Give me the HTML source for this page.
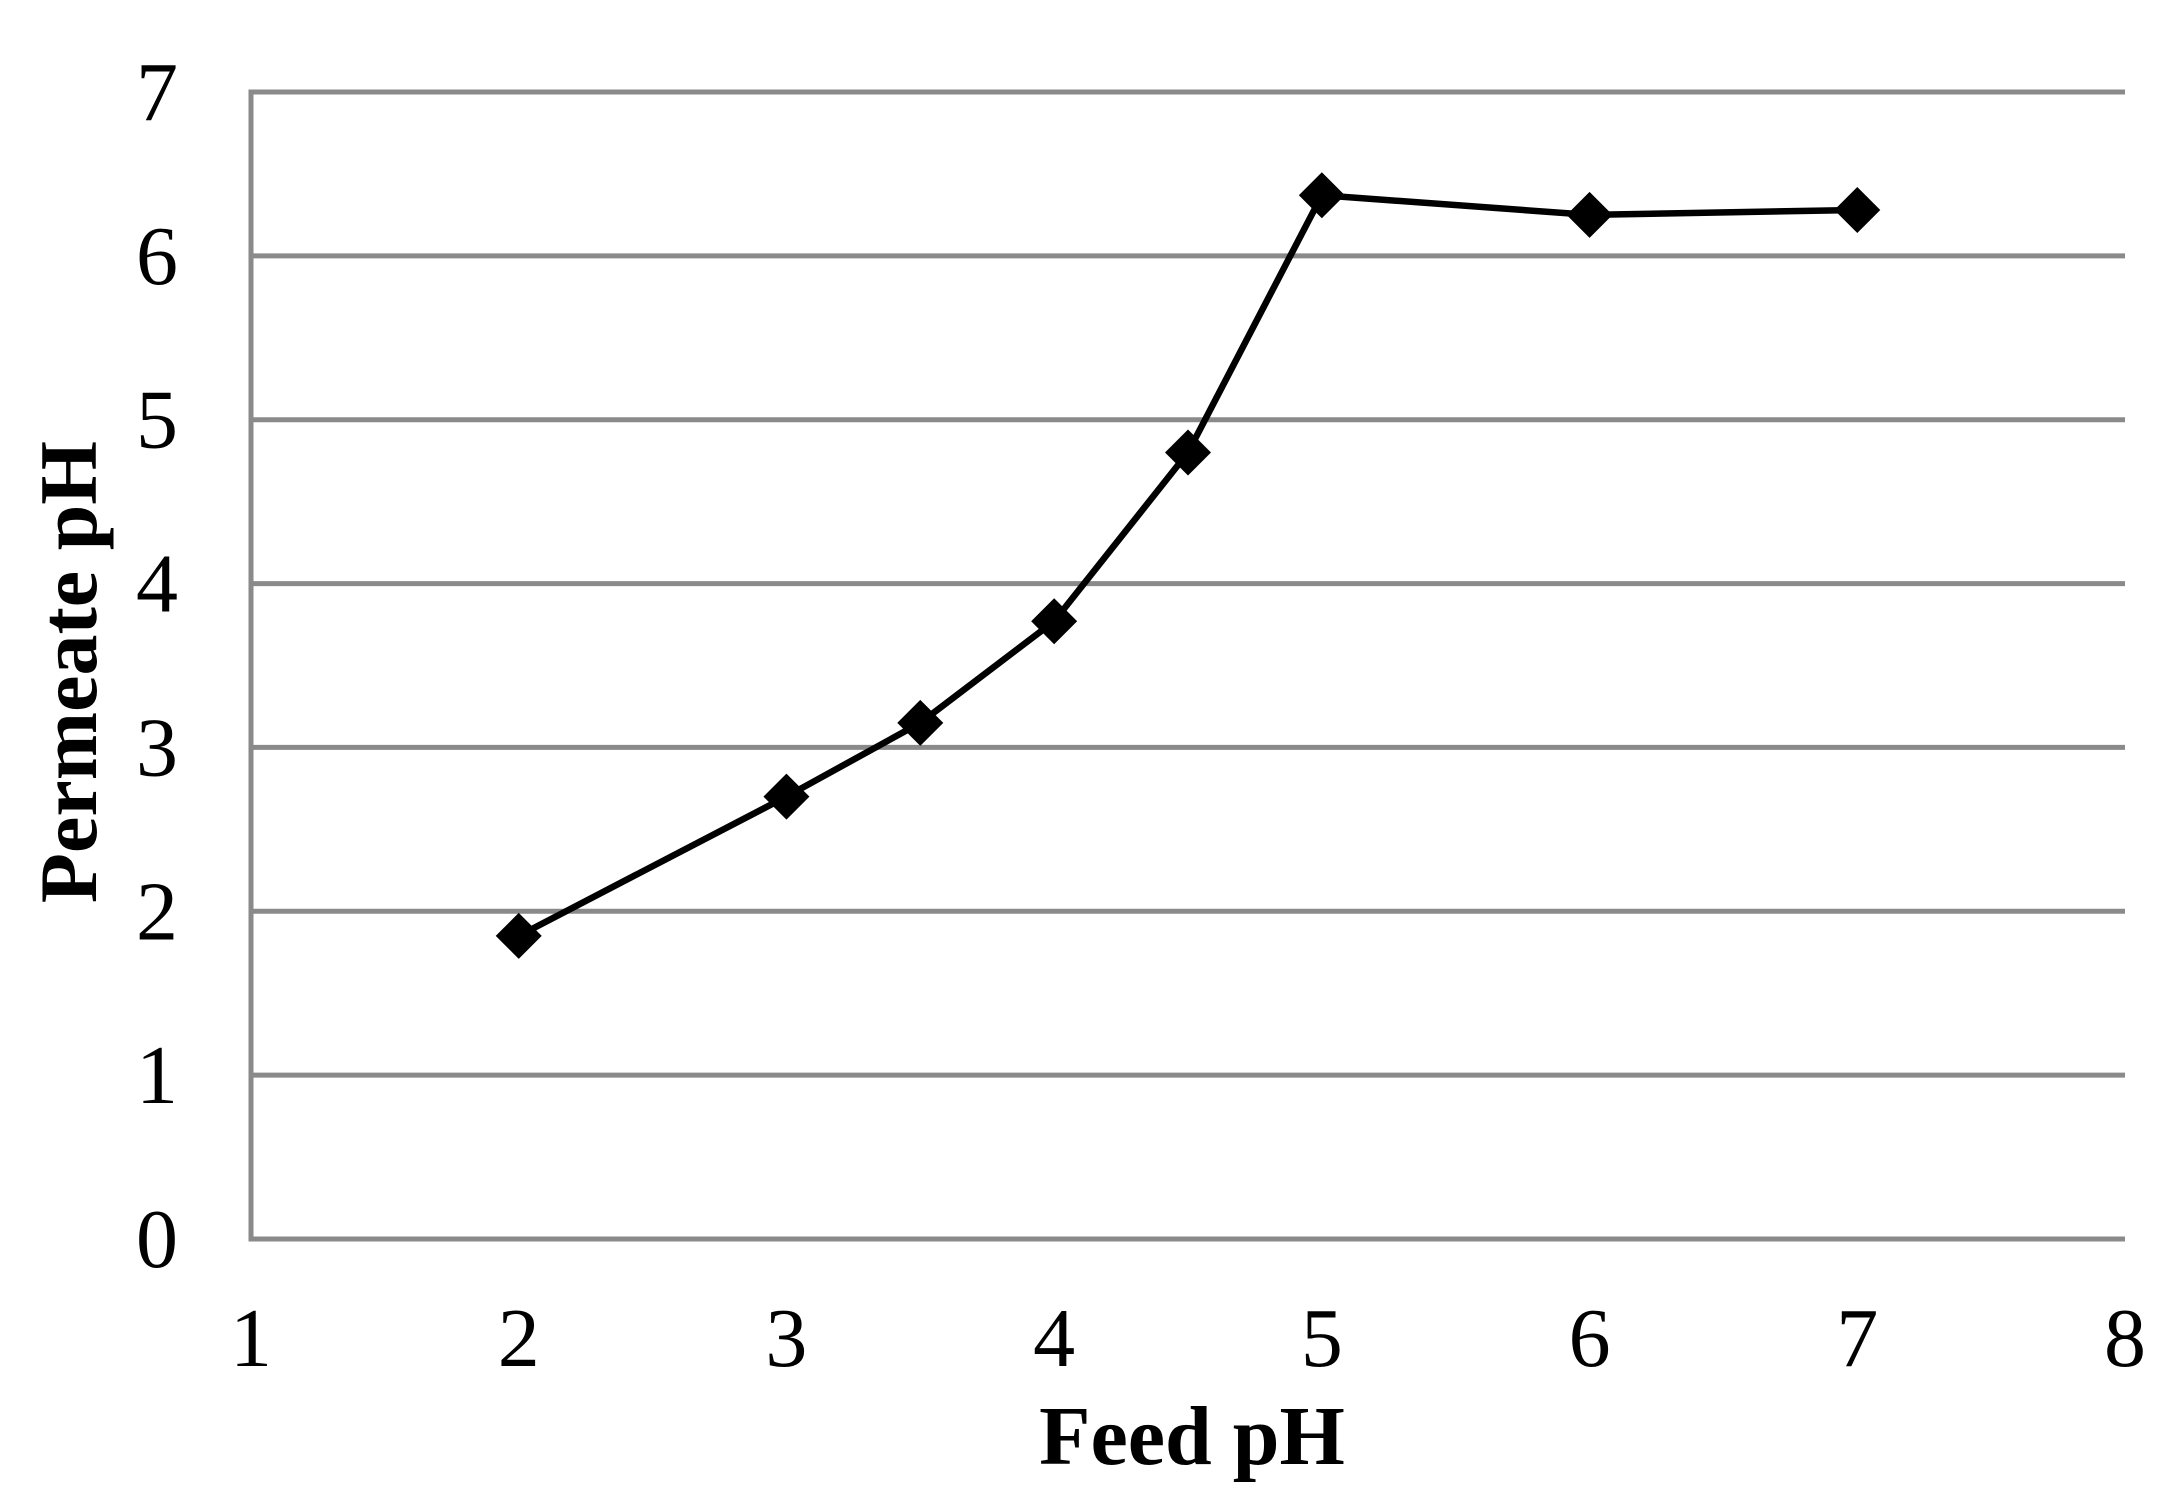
<!DOCTYPE html>
<html><head><meta charset="utf-8"><style>
html,body{margin:0;padding:0;background:#fff;}
svg{display:block;}
text{font-family:"Liberation Serif",serif;fill:#000;}
</style></head><body>
<svg id="chart" width="2182" height="1501" viewBox="0 0 2182 1501" xmlns="http://www.w3.org/2000/svg">
<g id="grid"></g>
<g id="yticks"></g>
<g id="xticks"></g>
<g id="series"></g>
<text x="1192" y="1464" font-size="84" font-weight="bold" text-anchor="middle">Feed pH</text>
<text transform="translate(96,672) rotate(-90)" x="0" y="0" font-size="82" font-weight="bold" text-anchor="middle">Permeate pH</text>
</svg>
<script>
const feedPH = [2, 3, 3.5, 4, 4.5, 5, 6, 7];
const permeatePH = [1.85, 2.7, 3.15, 3.77, 4.8, 6.37, 6.25, 6.28];
const xTicks = [1, 2, 3, 4, 5, 6, 7, 8];
const yTicks = [0, 1, 2, 3, 4, 5, 6, 7];

const NS = 'http://www.w3.org/2000/svg';
const X0 = 251, X1 = 2125, Y0 = 1239, Y1 = 92;
const xMin = 1, xMax = 8, yMin = 0, yMax = 7;
function sx(v){ return X0 + (v - xMin) / (xMax - xMin) * (X1 - X0); }
function sy(v){ return Y0 - (v - yMin) / (yMax - yMin) * (Y0 - Y1); }
function mk(tag, attrs, parent){
  const e = document.createElementNS(NS, tag);
  for (const k in attrs) e.setAttribute(k, attrs[k]);
  parent.appendChild(e);
  return e;
}
const grid = document.getElementById('grid');
yTicks.forEach(t => {
  const l = mk('line', {x1: X0, x2: X1, y1: sy(t), y2: sy(t), stroke: '#8a8a8a', 'stroke-width': 5}, grid);
  
  
});
const ax = mk('line', {x1: X0, x2: X0, y1: Y1 - 2.5, y2: Y0 + 2.5, stroke: '#8a8a8a', 'stroke-width': 5}, grid);



const yg = document.getElementById('yticks');
yTicks.forEach(t => {
  const e = mk('text', {x: 178, y: sy(t) + 28, 'font-size': 84, 'text-anchor': 'end'}, yg);
  e.textContent = t;
  
  
});
const xg = document.getElementById('xticks');
xTicks.forEach(t => {
  const e = mk('text', {x: sx(t), y: 1366, 'font-size': 84, 'text-anchor': 'middle'}, xg);
  e.textContent = t;
  
  
});

const sg = document.getElementById('series');
const pts = feedPH.map((v, i) => sx(v) + ',' + sy(permeatePH[i])).join(' ');
const pl = mk('polyline', {points: pts, fill: 'none', stroke: '#000', 'stroke-width': 6.5, 'stroke-linejoin': 'round'}, sg);


feedPH.forEach((v, i) => {
  const cx = sx(v), cy = sy(permeatePH[i]), r = 23;
  const m = mk('polygon', {points: `${cx},${cy - r} ${cx + r},${cy} ${cx},${cy + r} ${cx - r},${cy}`, fill: '#000'}, sg);
  
  
});
</script>
</body></html>
